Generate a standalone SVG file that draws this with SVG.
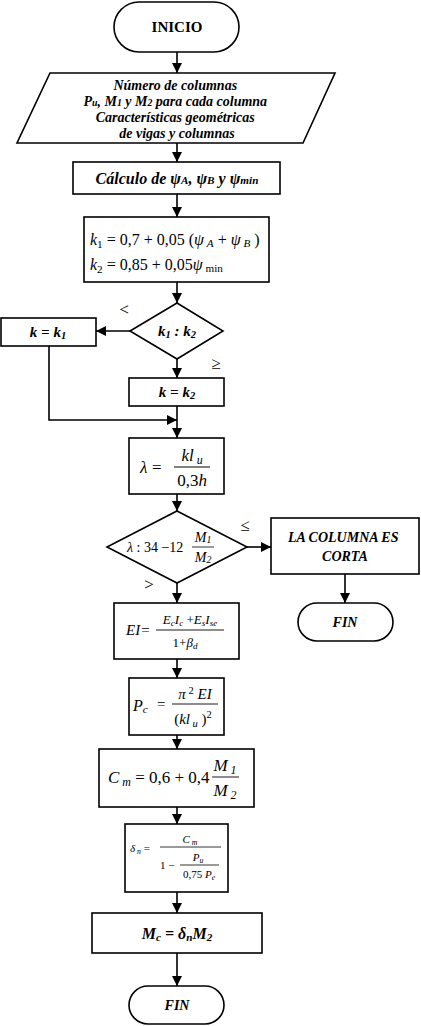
<svg xmlns="http://www.w3.org/2000/svg" width="421" height="1026" viewBox="0 0 421 1026">
<style>
.s{fill:#fff;stroke:#000;stroke-width:1.6}
.c{fill:none;stroke:#000;stroke-width:1.6}
.bi{font-family:"Liberation Serif",serif;font-weight:bold;font-style:italic;fill:#000}
.m{font-family:"Liberation Serif",serif;fill:#000}
.i{font-style:italic}
.sb{font-size:70%}
</style>
<defs>
<marker id="ah" markerUnits="userSpaceOnUse" markerWidth="12" markerHeight="12" refX="10" refY="5" orient="auto">
<path d="M0,0 L10,5 L0,10 z" fill="#000"/>
</marker>
</defs>
<rect width="421" height="1026" fill="#fff"/>
<g id="connectors">
<line class="c" x1="177" y1="52" x2="177" y2="73" marker-end="url(#ah)"/>
<line class="c" x1="177" y1="143" x2="177" y2="162" marker-end="url(#ah)"/>
<line class="c" x1="177" y1="194" x2="177" y2="217" marker-end="url(#ah)"/>
<line class="c" x1="177" y1="282" x2="177" y2="303" marker-end="url(#ah)"/>
<line class="c" x1="130" y1="331" x2="96" y2="331" marker-end="url(#ah)"/>
<line class="c" x1="177" y1="359" x2="177" y2="378" marker-end="url(#ah)"/>
<line class="c" x1="177" y1="406" x2="177" y2="438" marker-end="url(#ah)"/>
<polyline class="c" points="49,346 49,420 177,420" marker-end="url(#ah)"/>
<line class="c" x1="177" y1="494" x2="177" y2="511" marker-end="url(#ah)"/>
<line class="c" x1="247" y1="547" x2="271" y2="547" marker-end="url(#ah)"/>
<line class="c" x1="345" y1="574" x2="345" y2="603" marker-end="url(#ah)"/>
<line class="c" x1="177" y1="583" x2="177" y2="603" marker-end="url(#ah)"/>
<line class="c" x1="177" y1="659" x2="177" y2="678" marker-end="url(#ah)"/>
<line class="c" x1="177" y1="735" x2="177" y2="749" marker-end="url(#ah)"/>
<line class="c" x1="177" y1="807" x2="177" y2="824" marker-end="url(#ah)"/>
<line class="c" x1="177" y1="892" x2="177" y2="913" marker-end="url(#ah)"/>
<line class="c" x1="177" y1="953" x2="177" y2="986" marker-end="url(#ah)"/>
<text class="m" x="124" y="315" font-size="17" text-anchor="middle">&lt;</text>
<text class="m" x="216" y="369" font-size="17" text-anchor="middle">≥</text>
<text class="m" x="245" y="531" font-size="17" text-anchor="middle">≤</text>
<text class="m" x="149" y="590" font-size="17" text-anchor="middle">&gt;</text>
</g>
<g id="inicio">
<rect class="s" x="114" y="2" width="125" height="50" rx="25"/>
<text class="m" x="177" y="32" font-size="15" font-weight="bold" text-anchor="middle">INICIO</text>
</g>
<g id="entrada">
<polygon class="s" points="50,73 335,73 303,143 17,143"/>
<text class="bi" font-size="14" text-anchor="middle">
<tspan x="177" y="90">Número de columnas</tspan>
<tspan x="177" y="106">P<tspan class="sb">u</tspan>, M<tspan class="sb">1</tspan> y M<tspan class="sb">2</tspan> para cada columna</tspan>
<tspan x="177" y="122">Características geométricas</tspan>
<tspan x="177" y="138">de vigas y columnas</tspan>
</text>
</g>
<g id="calculo-psi">
<rect class="s" x="73" y="162" width="207" height="32"/>
<text class="bi" x="177" y="184" font-size="16" text-anchor="middle">Cálculo de ψ<tspan class="sb">A</tspan>, ψ<tspan class="sb">B</tspan> y ψ<tspan class="sb">min</tspan></text>
</g>
<g id="k-formulas">
<rect class="s" x="84" y="217" width="185" height="65"/>
<text class="m" x="90" y="245" font-size="16"><tspan class="i">k</tspan><tspan class="sb" dy="3">1</tspan><tspan dy="-3"> = 0,7 + 0,05 (</tspan><tspan class="i">ψ</tspan><tspan class="sb i" dy="2"> A</tspan><tspan dy="-2"> + </tspan><tspan class="i">ψ</tspan><tspan class="sb i" dy="2"> B</tspan><tspan dy="-2"> )</tspan></text>
<text class="m" x="90" y="270" font-size="16"><tspan class="i">k</tspan><tspan class="sb" dy="3">2</tspan><tspan dy="-3"> = 0,85 + 0,05</tspan><tspan class="i">ψ</tspan><tspan class="sb" dy="2"> min</tspan></text>
</g>
<g id="decision-k">
<polygon class="s" points="177,303 223,331 177,359 130,331"/>
<text class="bi" x="177" y="336" font-size="15" text-anchor="middle">k<tspan class="sb" dy="2">1</tspan><tspan dy="-2"> : k</tspan><tspan class="sb" dy="2">2</tspan></text>
</g>
<g id="k-eq-k1">
<rect class="s" x="1" y="318" width="95" height="28"/>
<text class="bi" x="48" y="337" font-size="15" text-anchor="middle">k = k<tspan class="sb" dy="2">1</tspan></text>
</g>
<g id="k-eq-k2">
<rect class="s" x="129" y="378" width="95" height="28"/>
<text class="bi" x="177" y="397" font-size="15" text-anchor="middle">k = k<tspan class="sb" dy="2">2</tspan></text>
</g>
<g id="lambda">
<rect class="s" x="129" y="438" width="95" height="56"/>
<text class="m i" x="140" y="473" font-size="17">λ</text>
<text class="m" x="152" y="473" font-size="17">=</text>
<text class="m" x="192" y="461" font-size="17" text-anchor="middle"><tspan class="i">kl</tspan><tspan class="sb i" dy="3"> u</tspan></text>
<line x1="174" y1="467" x2="210" y2="467" stroke="#000" stroke-width="1"/>
<text class="m" x="192" y="486" font-size="17" text-anchor="middle">0,3<tspan class="i">h</tspan></text>
</g>
<g id="decision-lambda">
<polygon class="s" points="177,511 247,547 177,583 107,547"/>
<text class="m" x="127" y="552" font-size="14"><tspan class="i">λ</tspan> : 34 −12</text>
<text class="m i" x="203" y="542" font-size="14" text-anchor="middle">M<tspan class="sb" dy="1">1</tspan></text>
<line x1="192" y1="547" x2="214" y2="547" stroke="#000" stroke-width="0.8"/>
<text class="m i" x="203" y="562" font-size="14" text-anchor="middle">M<tspan class="sb" dy="1">2</tspan></text>
</g>
<g id="columna-corta">
<rect class="s" x="271" y="518" width="148" height="56"/>
<text class="bi" font-size="14" text-anchor="middle">
<tspan x="345" y="542">LA COLUMNA ES</tspan>
<tspan x="345" y="561">CORTA</tspan>
</text>
</g>
<g id="fin-corta">
<rect class="s" x="298" y="603" width="95" height="38" rx="19"/>
<text class="bi" x="345" y="627" font-size="14" text-anchor="middle">FIN</text>
</g>
<g id="ei">
<rect class="s" x="114" y="603" width="125" height="56"/>
<text class="m i" x="126" y="635" font-size="15">EI=</text>
<text class="m" x="190" y="624" font-size="13" text-anchor="middle"><tspan class="i">E</tspan><tspan class="sb i" dy="2">c</tspan><tspan class="i" dy="-2">I</tspan><tspan class="sb i" dy="2">c</tspan><tspan dy="-2"> +</tspan><tspan class="i">E</tspan><tspan class="sb i" dy="2">s</tspan><tspan class="i" dy="-2">I</tspan><tspan class="sb i" dy="2">se</tspan></text>
<line x1="156" y1="630" x2="224" y2="630" stroke="#000" stroke-width="0.9"/>
<text class="m" x="185" y="647" font-size="13" text-anchor="middle">1+<tspan class="i">β</tspan><tspan class="sb i" dy="2">d</tspan></text>
</g>
<g id="pc">
<rect class="s" x="129" y="678" width="95" height="57"/>
<text class="m i" x="133" y="711" font-size="16">P<tspan class="sb" dy="2">c</tspan></text>
<text class="m" x="157" y="709" font-size="15">=</text>
<text class="m" x="195" y="699" font-size="15" text-anchor="middle"><tspan class="i">π</tspan><tspan class="sb" dy="-5"> 2</tspan><tspan class="i" dy="5"> EI</tspan></text>
<line x1="172" y1="704" x2="218" y2="704" stroke="#000" stroke-width="0.9"/>
<text class="m" x="193" y="724" font-size="15" text-anchor="middle">(<tspan class="i">kl</tspan><tspan class="sb i" dy="3"> u</tspan><tspan dy="-3"> )</tspan><tspan class="sb" dy="-6">2</tspan></text>
</g>
<g id="cm">
<rect class="s" x="99" y="749" width="155" height="58"/>
<text class="m" x="108" y="783" font-size="17"><tspan class="i">C</tspan><tspan class="sb i" dy="3"> m</tspan><tspan dy="-3"> = 0,6 + 0,4</tspan></text>
<text class="m i" x="225" y="771" font-size="17" text-anchor="middle">M<tspan class="sb" dy="3"> 1</tspan></text>
<line x1="212" y1="777" x2="239" y2="777" stroke="#000" stroke-width="0.9"/>
<text class="m i" x="225" y="796" font-size="17" text-anchor="middle">M<tspan class="sb" dy="3"> 2</tspan></text>
</g>
<g id="delta">
<rect class="s" x="125" y="824" width="103" height="68"/>
<text class="m" x="130" y="852" font-size="11"><tspan class="i">δ</tspan><tspan class="sb i" dy="2"> n</tspan><tspan dy="-2"> =</tspan></text>
<text class="m i" x="190" y="843" font-size="11" text-anchor="middle">C<tspan class="sb" dy="2"> m</tspan></text>
<line x1="160" y1="847" x2="221" y2="847" stroke="#000" stroke-width="0.8"/>
<text class="m" x="160" y="869" font-size="11">1 −</text>
<text class="m i" x="198" y="861" font-size="11" text-anchor="middle">P<tspan class="sb" dy="2">u</tspan></text>
<line x1="180" y1="865" x2="219" y2="865" stroke="#000" stroke-width="0.8"/>
<text class="m" x="199" y="878" font-size="11" text-anchor="middle">0,75 <tspan class="i">P</tspan><tspan class="sb i" dy="2">e</tspan></text>
</g>
<g id="mc">
<rect class="s" x="92" y="913" width="170" height="40"/>
<text class="bi" x="177" y="939" font-size="16" text-anchor="middle">M<tspan class="sb" dy="2">c</tspan><tspan dy="-2"> = δ</tspan><tspan class="sb" dy="2">n</tspan><tspan dy="-2">M</tspan><tspan class="sb" dy="2">2</tspan></text>
</g>
<g id="fin">
<rect class="s" x="129" y="986" width="95" height="38" rx="19"/>
<text class="bi" x="177" y="1010" font-size="14" text-anchor="middle">FIN</text>
</g>
</svg>
